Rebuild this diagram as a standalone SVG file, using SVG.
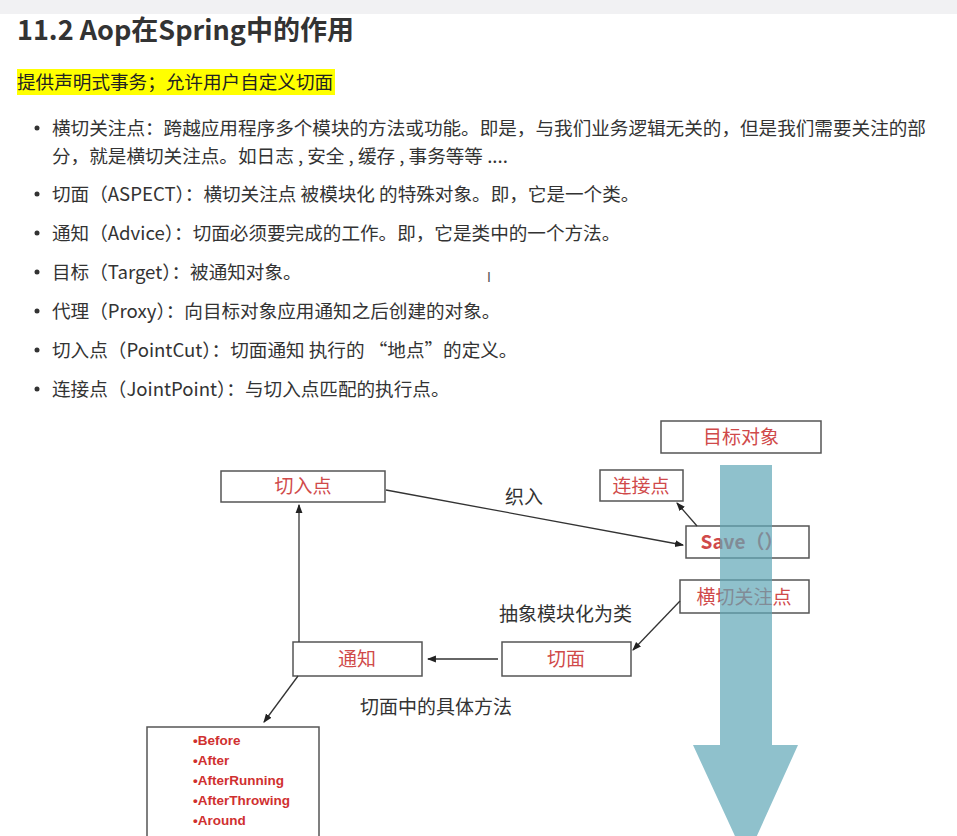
<svg xmlns="http://www.w3.org/2000/svg" width="957" height="836" viewBox="0 0 957 836">
<style>
.t{font-family:"Noto Sans CJK SC","Noto Sans",sans-serif;fill:#333;font-size:18.6px}
.b{fill:#fff;stroke:#555;stroke-width:1.5}
.r{font-family:"Noto Sans CJK SC","Liberation Sans",sans-serif;fill:#d04a4a;font-size:19px;text-anchor:middle}
.l{font-family:"Liberation Sans",sans-serif;fill:#d03030;font-size:13.5px;font-weight:bold}
.c{stroke:#333;stroke-width:1.3;fill:none;marker-end:url(#a)}
.k{font-family:"Noto Sans CJK SC",sans-serif;fill:#333;font-size:19px}
</style>
<defs><marker id="a" viewBox="0 0 8 8" refX="7" refY="4" markerWidth="7" markerHeight="7" orient="auto"><path d="M0,1 L8,4 L0,7 z" fill="#222"/></marker></defs>
<rect width="957" height="836" fill="#fff"/>
<rect width="957" height="14" fill="#f1f1f3"/>
<text x="17" y="40" style="font-family:'Noto Sans CJK SC',sans-serif;font-size:27px;font-weight:bold;fill:#333">11.2  Aop在Spring中的作用</text>
<rect x="17" y="69" width="318" height="26" fill="#ffff00"/>
<text x="17" y="89" class="t" style="fill:#222">提供声明式事务；允许用户自定义切面</text>
<g class="t">
<circle cx="37" cy="128" r="2.5" fill="#333"/><text x="52" y="135">横切关注点：跨越应用程序多个模块的方法或功能。即是，与我们业务逻辑无关的，但是我们需要关注的部</text>
<text x="52" y="163">分，就是横切关注点。如日志 , 安全 , 缓存 , 事务等等 ....</text>
<circle cx="37" cy="194" r="2.5" fill="#333"/><text x="52" y="201">切面（ASPECT）：横切关注点 被模块化 的特殊对象。即，它是一个类。</text>
<circle cx="37" cy="233" r="2.5" fill="#333"/><text x="52" y="240">通知（Advice）：切面必须要完成的工作。即，它是类中的一个方法。</text>
<circle cx="37" cy="272" r="2.5" fill="#333"/><text x="52" y="279">目标（Target）：被通知对象。</text>
<circle cx="37" cy="311" r="2.5" fill="#333"/><text x="52" y="318">代理（Proxy）：向目标对象应用通知之后创建的对象。</text>
<circle cx="37" cy="350" r="2.5" fill="#333"/><text x="52" y="357">切入点（PointCut）：切面通知 执行的 “地点”的定义。</text>
<circle cx="37" cy="389" r="2.5" fill="#333"/><text x="52" y="396">连接点（JointPoint）：与切入点匹配的执行点。</text>
</g>
<g id="target"><rect class="b" x="661" y="421" width="160" height="32"/><text class="r" x="741" y="444">目标对象</text></g>
<g id="pointcut"><rect class="b" x="221" y="471" width="164" height="31"/><text class="r" x="303" y="493">切入点</text></g>
<g id="joinpoint"><rect class="b" x="600" y="470" width="83" height="31"/><text class="r" x="641" y="493">连接点</text></g>
<g id="save"><rect class="b" x="686" y="526" width="123" height="32"/><text class="r" x="742" y="549" style="font-weight:bold">Save（）</text></g>
<g id="concern"><rect class="b" x="680" y="580" width="129" height="33"/><text class="r" x="744" y="604">横切关注点</text></g>
<g id="advice"><rect class="b" x="293" y="642" width="129" height="34"/><text class="r" x="357" y="666">通知</text></g>
<g id="aspect"><rect class="b" x="502" y="642" width="129" height="34"/><text class="r" x="566" y="666">切面</text></g>
<g id="arrow"><path d="M720,465 H772 V745 H798 L746,860 L693,745 H720 Z" fill="#5fa6b6" fill-opacity="0.7"/></g>
<g id="list"><rect class="b" x="147" y="727" width="172" height="120"/>
<g class="l"><text x="193" y="745">•Before</text><text x="193" y="765">•After</text><text x="193" y="785">•AfterRunning</text><text x="193" y="805">•AfterThrowing</text><text x="193" y="825">•Around</text></g></g>
<g id="connectors">
<line class="c" x1="386" y1="490" x2="683" y2="545"/>
<line class="c" x1="697" y1="526" x2="677" y2="503"/>
<line class="c" x1="680" y1="601" x2="633" y2="650"/>
<line class="c" x1="498" y1="659" x2="428" y2="659"/>
<line class="c" x1="299" y1="642" x2="299" y2="505"/>
<line class="c" x1="298" y1="676" x2="264" y2="722"/>
</g>
<text class="k" x="505" y="504">织入</text>
<text class="k" x="499" y="621">抽象模块化为类</text>
<text class="k" x="360" y="714">切面中的具体方法</text>
<text x="487" y="282" style="font-family:'Liberation Sans',sans-serif;font-size:14px;fill:#555">I</text>
</svg>
